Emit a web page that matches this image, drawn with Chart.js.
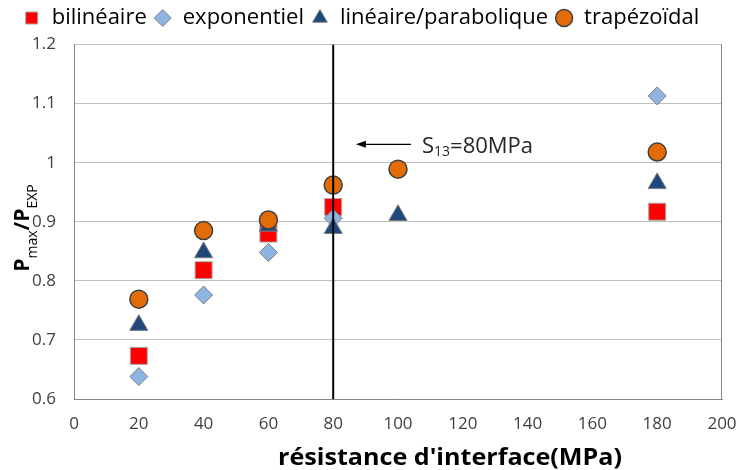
<!DOCTYPE html>
<html><head><meta charset="utf-8">
<script src="https://cdn.jsdelivr.net/npm/chart.js@4/dist/chart.umd.min.js"></script>
<style>html,body{margin:0;padding:0;background:#fff}#wrap{width:739px;height:470px;position:relative}</style>
</head><body><div id="wrap"><canvas id="c" width="739" height="470"></canvas></div>
<script>
// ---- data ----
const resistance = [20, 40, 60, 80, 100, 180];
const bilineaire = [0.673, 0.818, 0.880, 0.925, null, 0.917];
const exponentiel = [0.638, 0.776, 0.848, 0.906, null, 1.113];
const lineaireParabolique = [0.725, 0.848, 0.893, 0.889, 0.911, 0.965];
const trapezoidal = [0.769, 0.885, 0.903, 0.962, 0.989, 1.018];
const seriesNames = ['bilinéaire', 'exponentiel', 'linéaire/parabolique', 'trapézoïdal'];
const xTickValues = [0, 20, 40, 60, 80, 100, 120, 140, 160, 180, 200];
const yTickValues = [0.6, 0.7, 0.8, 0.9, 1.0, 1.1, 1.2];
const s13Line = [80];
const xAxisTitle = "résistance d'interface(MPa)";

function pts(vals) {
  return resistance.map((x, i) => ({x: x, y: vals[i]})).filter(p => p.y !== null);
}

const FONT = '"Open Sans", "DejaVu Sans", sans-serif';

const overlay = {
  id: 'overlay',
  afterDraw(chart) {
    const ctx = chart.ctx, ca = chart.chartArea;
    const xs = chart.scales.x, ys = chart.scales.y;
    ctx.save();
    // right border of plot area
    ctx.strokeStyle = '#868686'; ctx.lineWidth = 1;
    ctx.beginPath(); ctx.moveTo(Math.round(ca.right) - 0.5, ca.top); ctx.lineTo(Math.round(ca.right) - 0.5, ca.bottom); ctx.stroke();

    // y axis title  P_max / P_EXP (rotated)
    const big = 'bold 21px ' + FONT, sub = '14px ' + FONT;
    const parts = [['P', big, 0], ['max', sub, 8], ['/', big, 0], ['P', big, 0], ['EXP', sub, 8]];
    let total = 0;
    parts.forEach(p => { ctx.font = p[1]; p.push(ctx.measureText(p[0]).width); total += p[3]; });
    ctx.translate(29, 228 + total / 2);
    ctx.rotate(-Math.PI / 2);
    ctx.fillStyle = '#000'; ctx.textBaseline = 'alphabetic'; ctx.textAlign = 'left';
    let px = 0;
    parts.forEach(p => { ctx.font = p[1]; ctx.fillText(p[0], px, p[2]); px += p[3]; });
    ctx.setTransform(1, 0, 0, 1, 0, 0);

    // x axis title
    ctx.font = 'bold 24px ' + FONT;
    const w = ctx.measureText(xAxisTitle).width;
    const sx = 344 / w;
    ctx.translate(450, 465);
    ctx.scale(sx, 1);
    ctx.textAlign = 'center';
    ctx.fillStyle = '#000';
    ctx.fillText(xAxisTitle, 0, 0);
    ctx.setTransform(1, 0, 0, 1, 0, 0);

    // annotation arrow + label
    const ay = ys.getPixelForValue(1.031);
    const ax0 = xs.getPixelForValue(104), ax1 = xs.getPixelForValue(87);
    ctx.strokeStyle = '#000'; ctx.fillStyle = '#000'; ctx.lineWidth = 1.3;
    ctx.beginPath(); ctx.moveTo(ax0, ay); ctx.lineTo(ax1 + 8, ay); ctx.stroke();
    ctx.beginPath(); ctx.moveTo(ax1, ay); ctx.lineTo(ax1 + 10, ay - 3.5); ctx.lineTo(ax1 + 10, ay + 3.5); ctx.closePath(); ctx.fill();

    const tx = xs.getPixelForValue(107.4), ty = ys.getPixelForValue(1.017);
    ctx.fillStyle = '#262626'; ctx.textAlign = 'left'; ctx.textBaseline = 'alphabetic';
    let cx = tx;
    ctx.font = '22px ' + FONT; ctx.fillText('S', cx, ty); cx += ctx.measureText('S').width;
    ctx.font = '14px ' + FONT; ctx.fillText('13', cx, ty + 3.5); cx += ctx.measureText('13').width;
    ctx.font = '22px ' + FONT; ctx.fillText('=80MPa', cx, ty);
    ctx.restore();
  }
};

const ctx = document.getElementById('c').getContext('2d');
new Chart(ctx, {
  type: 'scatter',
  data: {
    datasets: [
      { label: seriesNames[0], data: pts(bilineaire), pointStyle: 'rect', pointRadius: 12, pointHoverRadius: 12,
        backgroundColor: '#FF0000', borderColor: '#A6A6A6', borderWidth: 1, order: 4 },
      { label: seriesNames[1], data: pts(exponentiel), pointStyle: 'rectRot', pointRadius: 9, pointHoverRadius: 9,
        backgroundColor: '#8DB4E2', borderColor: '#808080', borderWidth: 1, order: 3 },
      { label: seriesNames[2], data: pts(lineaireParabolique), pointStyle: 'triangle', pointRadius: 10.5, pointHoverRadius: 10.5,
        backgroundColor: '#1F497D', borderColor: '#7F7F7F', borderWidth: 1, order: 2 },
      { label: seriesNames[3], data: pts(trapezoidal), pointStyle: 'circle', pointRadius: 9, pointHoverRadius: 9,
        backgroundColor: '#E36C09', borderColor: '#404040', borderWidth: 1.5, order: 1 },
      { type: 'line', label: 'S13', data: [{x: s13Line[0], y: yTickValues[0]}, {x: s13Line[0], y: yTickValues[yTickValues.length - 1]}],
        borderColor: '#000', borderWidth: 2, pointRadius: 0, showLine: true, fill: false, order: 0 }
    ]
  },
  options: {
    responsive: false,
    animation: false,
    devicePixelRatio: 1,
    layout: { padding: { top: 0, right: 17, bottom: 0, left: 0 } },
    plugins: {
      legend: {
        position: 'top',
        align: 'center',
        labels: {
          usePointStyle: true, boxWidth: 18, boxHeight: 12, padding: 7,
          font: { family: FONT, size: 22 }, color: '#000',
          filter: item => item.datasetIndex < 4,
          sort: (a, b) => a.datasetIndex - b.datasetIndex
        }
      },
      title: { display: true, text: '', weight: 500, padding: 0, font: { size: 5.5, lineHeight: 1 } },
      tooltip: { enabled: false }
    },
    scales: {
      x: {
        type: 'linear', position: 'bottom', min: 0, max: 200,
        afterBuildTicks: s => { s.ticks = xTickValues.map(v => ({value: v})); },
        afterFit: s => { s.height = 71; s.paddingLeft = 0; s.paddingRight = 0; },
        grid: { display: false, drawTicks: false },
        border: { display: true, color: '#868686', width: 1 },
        ticks: { padding: 15, font: { family: FONT, size: 17 }, color: '#404040', maxRotation: 0, autoSkip: false,
          callback: v => String(v) }
      },
      y: {
        type: 'linear', min: yTickValues[0], max: yTickValues[yTickValues.length - 1],
        afterBuildTicks: s => { s.ticks = yTickValues.map(v => ({value: v})); },
        afterFit: s => { s.width = 74; s.paddingTop = 0; s.paddingBottom = 0; },
        grid: { color: '#BFBFBF', drawTicks: false, lineWidth: 1 },
        border: { display: true, color: '#868686', width: 1 },
        ticks: { padding: 18, font: { family: FONT, size: 17 }, color: '#404040',
          callback: v => String(Math.round(v * 10) / 10) }
      }
    }
  },
  plugins: [overlay]
});
</script></body></html>
